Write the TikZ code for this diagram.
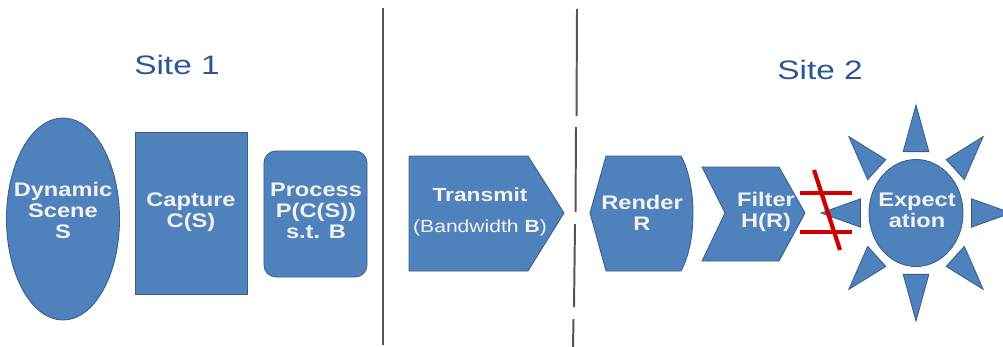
\documentclass[tikz,border=0pt]{standalone}
\usepackage{fontspec}
\setmainfont{Liberation Sans}
\usepackage{graphicx}
\usetikzlibrary{shapes.geometric}

\definecolor{boxblue}{HTML}{4F81BD}
\definecolor{boxedge}{HTML}{385D8A}
\definecolor{boxtext}{HTML}{F2F2EE}
\definecolor{sitetext}{HTML}{2B5796}
\definecolor{crossred}{HTML}{D00000}
\definecolor{divider}{HTML}{555555}

\newcommand{\widetext}[2][1.2]{\scalebox{#1}[1]{\begin{tabular}{@{}c@{}}#2\end{tabular}}}

\begin{document}
\begin{tikzpicture}[x=0.025cm, y=-0.025cm,
  blueshape/.style={fill=boxblue, draw=boxedge, line width=0.6pt},
  boxlabel/.style={text=boxtext, font=\fontsize{14}{15}\selectfont\bfseries,
                   align=center, inner sep=0pt},
  sitelabel/.style={text=sitetext, font=\fontsize{19}{22}\selectfont, inner sep=0pt},
  divline/.style={draw=divider, line width=1.4pt},
  crossline/.style={draw=crossred, line width=3pt}
]
\useasboundingbox (0,0) rectangle (1003,347);

% site headings
\node[sitelabel] (site1) at (177,65) {\scalebox{1.25}[1]{Site 1}};
\node[sitelabel] (site2) at (820,70) {\scalebox{1.25}[1]{Site 2}};

% separators
\draw[divline] (383,8) -- (383,345);
\foreach \xa/\ya/\xb/\yb in {577/9/576.5/116, 576/127/575.5/212,
                             575/224/574/307, 573.5/319/573/347}
  \draw[divline] (\xa,\ya) -- (\xb,\yb);

% site 1
\node[blueshape, ellipse, minimum width=2.825cm, minimum height=5.05cm] (scene) at (63,219) {};
\node[blueshape, rectangle, minimum width=2.8cm, minimum height=4.05cm] (capture) at (191,213) {};
\node[blueshape, rectangle, rounded corners=0.3cm, minimum width=2.575cm,
      minimum height=3.15cm] (process) at (315.5,214) {};
\node[boxlabel] (scenetxt) at (63,213) {\widetext{Dynamic\\Scene\\S}};
\node[boxlabel] (capturetxt) at (191,213) {\widetext{Capture\\C(S)}};
\node[boxlabel] (processtxt) at (316,213) {\widetext{Process\\P(C(S))\\s.t. B}};

% channel
\draw[blueshape] (409,156) -- (528,156) -- (564,213) -- (528,271) -- (409,271) -- cycle;
\node[boxlabel] (transmittxt) at (480,213)
  {\widetext{\fontsize{13.5}{15}\selectfont Transmit\\[7pt]
   \mdseries\fontsize{12.5}{15}\selectfont (Bandwidth \textbf{B})}};

% site 2
\draw[blueshape] (606,156) -- (681,156) .. controls (697,185) and (697,242) .. (681,271)
  -- (606,271) -- (590,213) -- cycle;
\node[boxlabel] (rendertxt) at (642,216) {\widetext{Render\\R}};
\draw[blueshape] (702,167) -- (779,167) -- (805,213) -- (779,261) -- (702,261) -- (725,213) -- cycle;
\node[boxlabel] (filtertxt) at (766,213) {\widetext{Filter\\H(R)}};

\node[blueshape, ellipse, minimum width=2.35cm, minimum height=2.675cm] (sun) at (916,213) {};
\begin{scope}[shift={(sun.center)}]
  \foreach \a in {0,45,...,315}
    \draw[blueshape] (\a:95 and 108) -- ({\a+13}:57 and 63) -- ({\a-13}:57 and 63) -- cycle;
\end{scope}
\node[boxlabel] (suntxt) at (917,213) {\widetext{Expect\\ation}};

% not equal mark
\draw[crossline] (800,193) -- (852,193);
\draw[crossline] (800,232) -- (852,232);
\draw[crossline] (814,170) -- (840,250);
\end{tikzpicture}
\end{document}
